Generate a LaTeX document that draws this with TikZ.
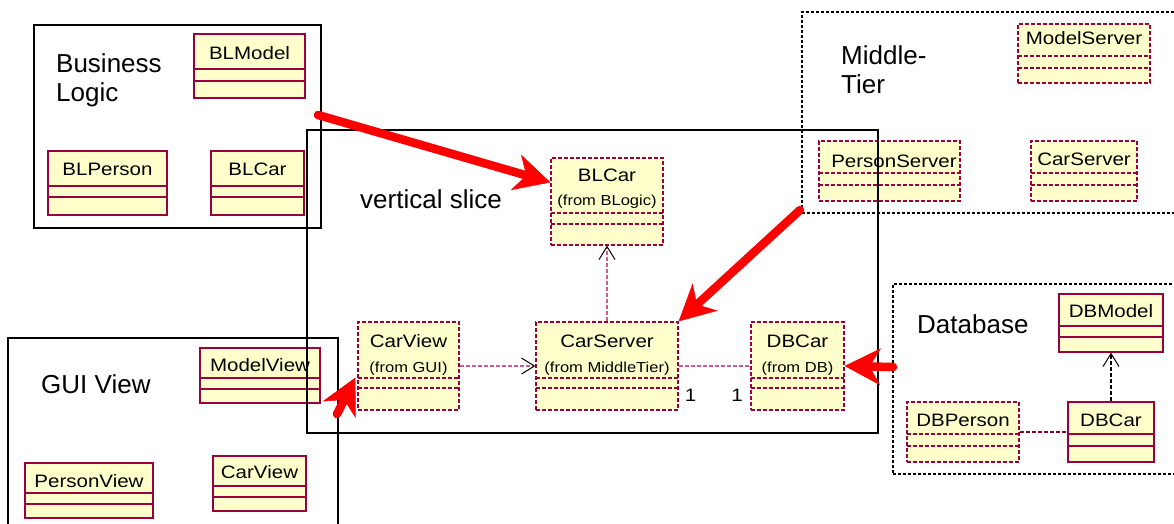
\documentclass[tikz,border=0pt]{standalone}
\usepackage{fontspec}
\setmainfont{Liberation Sans}
\newfontfamily\clsfont[FakeStretch=1.14]{Liberation Sans}
\usetikzlibrary{arrows.meta,fit,calc}

\definecolor{clsfill}{HTML}{FFFFCC}
\definecolor{clsedge}{HTML}{99003D}
\definecolor{deplink}{HTML}{CC5C8A}
\definecolor{dbedge}{HTML}{800030}
\definecolor{alert}{HTML}{FF0000}

\tikzset{
  clsbase/.style={fill=clsfill, draw=clsedge, line width=1.2pt, inner sep=0pt, minimum size=0pt},
  solidcls/.style={clsbase},
  dashcls/.style={clsbase, dash pattern=on 4pt off 2pt},
  cname/.style={font=\clsfont\fontsize{18}{20}\selectfont, anchor=base, inner sep=0pt},
  cfrom/.style={font=\clsfont\fontsize{14.5}{17}\selectfont, anchor=base, inner sep=0pt},
  pkglabel/.style={font=\fontsize{26}{29}\selectfont, inner sep=0pt},
  pkgframe/.style={draw=black, line width=1.6pt, inner sep=0pt, minimum size=0pt},
  dotframe/.style={pkgframe, line width=1.4pt, dash pattern=on 3pt off 2pt},
  deparrow/.style={draw=deplink, line width=1.2pt, dash pattern=on 4pt off 2pt,
    -{Straight Barb[length=13pt,width=16pt,color=black,line width=1pt]}},
  assoc/.style={draw=deplink, line width=1.2pt, dash pattern=on 4pt off 2pt},
  hint/.style={draw=alert, line width=8.5pt, line cap=round,
    -{Stealth[length=36pt,width=37pt,inset=11pt,line width=0.5pt]}},
}

% class box: name, style, left, top, right, bottom, divider 1, divider 2
\newcommand\clsbox[8]{%
  \node[#2, fit={(#3,#4) (#5,#6)}] (#1) {};
  \draw[#2, fill=none] (#3,#7) -- (#5,#7) (#3,#8) -- (#5,#8);
}

\begin{document}
\begin{tikzpicture}[x=1pt, y=-1pt]
\useasboundingbox (0,0) rectangle (1174,524);
\clip (0,0) rectangle (1174,524);

% ---------- Business Logic package ----------
\clsbox{blModel}{solidcls}{194}{34}{305}{98}{69}{81}
\node[cname] (blModelN) at (249.5,60) {BLModel};
\clsbox{blPerson}{solidcls}{48}{151}{167}{215}{186}{197}
\node[cname] (blPersonN) at (107.5,175) {BLPerson};
\clsbox{blCar}{solidcls}{211}{151}{304}{215}{186}{197}
\node[cname] (blCarN) at (257.5,175) {BLCar};

% ---------- Middle-Tier package ----------
\clsbox{mtModel}{dashcls}{1018}{24}{1150}{83}{56}{68}
\node[cname] (mtModelN) at (1084,45) {ModelServer};
\clsbox{mtPerson}{dashcls}{819}{141}{960}{201}{173}{185}
\node[cname] (mtPersonN) at (894,167) {PersonServer};
\clsbox{mtCar}{dashcls}{1031}{141}{1137}{201}{173}{185}
\node[cname] (mtCarN) at (1084,165) {CarServer};

% ---------- Database package ----------
\clsbox{dbModel}{solidcls}{1059}{294}{1163}{352}{326}{337}
\node[cname] (dbModelN) at (1111,317) {DBModel};
\clsbox{dbPerson}{dashcls}{907}{402}{1019}{462}{434}{446}
\node[cname] (dbPersonN) at (963,426) {DBPerson};
\clsbox{dbCar}{solidcls}{1068}{402}{1154}{462}{434}{446}
\node[cname] (dbCarN) at (1111,426) {DBCar};

% ---------- GUI View package ----------
\clsbox{guiModel}{solidcls}{200}{348}{320}{403}{378}{389}
\node[cname] (guiModelN) at (260,371) {ModelView};
\clsbox{guiPerson}{solidcls}{25}{463}{153}{518}{493}{504}
\node[cname] (guiPersonN) at (89,487) {PersonView};
\clsbox{guiCar}{solidcls}{213}{456}{306}{511}{486}{497}
\node[cname] (guiCarN) at (259.5,478) {CarView};

% ---------- vertical slice ----------
\clsbox{vsBLCar}{dashcls}{551}{158}{663}{245}{213}{224}
\node[cname] (vsBLCarN) at (607,181) {BLCar};
\node[cfrom] (vsBLCarF) at (607,205) {(from BLogic)};
\clsbox{vsCarView}{dashcls}{358}{322}{459}{410}{378}{388}
\node[cname] (vsCarViewN) at (408.5,347) {CarView};
\node[cfrom] (vsCarViewF) at (408.5,372) {(from GUI)};
\clsbox{vsCarServer}{dashcls}{536}{322}{678}{410}{378}{388}
\node[cname] (vsCarServerN) at (607,347) {CarServer};
\node[cfrom] (vsCarServerF) at (607,372) {(from MiddleTier)};
\clsbox{vsDBCar}{dashcls}{751}{322}{844}{410}{378}{388}
\node[cname] (vsDBCarN) at (797.5,347) {DBCar};
\node[cfrom] (vsDBCarF) at (797.5,372) {(from DB)};

% multiplicities
\node[cname] (multL) at (690.5,401) {1};
\node[cname] (multR) at (737,401) {1};

% ---------- package frames ----------
\node[pkgframe, fit={(34,25) (321,228)}] (bl) {};
\node[pkglabel, anchor=north west, align=left] (blLabel) at (56,53.4) {Business\\Logic};
\node[dotframe, fit={(802,12) (1190,213)}] (mt) {};
\node[pkglabel, anchor=north west, align=left] (mtLabel) at (841,45) {Middle-\\Tier};
\node[dotframe, fit={(893,284) (1190,474)}] (db) {};
\node[pkglabel, anchor=base west] (dbLabel) at (917,333) {Database};
\node[pkgframe, fit={(8,338) (338,540)}] (gui) {};
\node[pkglabel, anchor=base west] (guiLabel) at (41,393) {GUI View};
\node[pkgframe, fit={(307,130) (878,433)}] (vs) {};
\node[pkglabel, anchor=base west] (vsLabel) at (360,208) {vertical slice};

% ---------- relations ----------
\draw[deparrow] (vsCarView.east) -- (vsCarServer.west);
\draw[assoc] (vsCarServer.east) -- (vsDBCar.west);
\draw[deparrow] (vsCarServer.north) -- (vsBLCar.south);
\draw[assoc, draw=dbedge] (dbPerson.east) -- (dbCar.west);
\draw[deparrow, draw=black] (dbCar.north) -- (dbModel.south);

% ---------- highlight arrows ----------
\coordinate (fromBL) at (318,115);
\coordinate (fromMT) at (800,210);
\coordinate (fromDB) at (893,367);
\coordinate (fromGUI) at (337,414);
\draw[hint] (fromBL) -- ($(vsBLCar.north west)+(0,25)$);
\draw[hint] (fromMT) -- (vsCarServer.north east);
\draw[hint] (fromDB) -- (vsDBCar.east);
\draw[hint] (fromGUI) -- ($(vsCarView.south west)+(-2,-33)$);
\end{tikzpicture}
\end{document}
